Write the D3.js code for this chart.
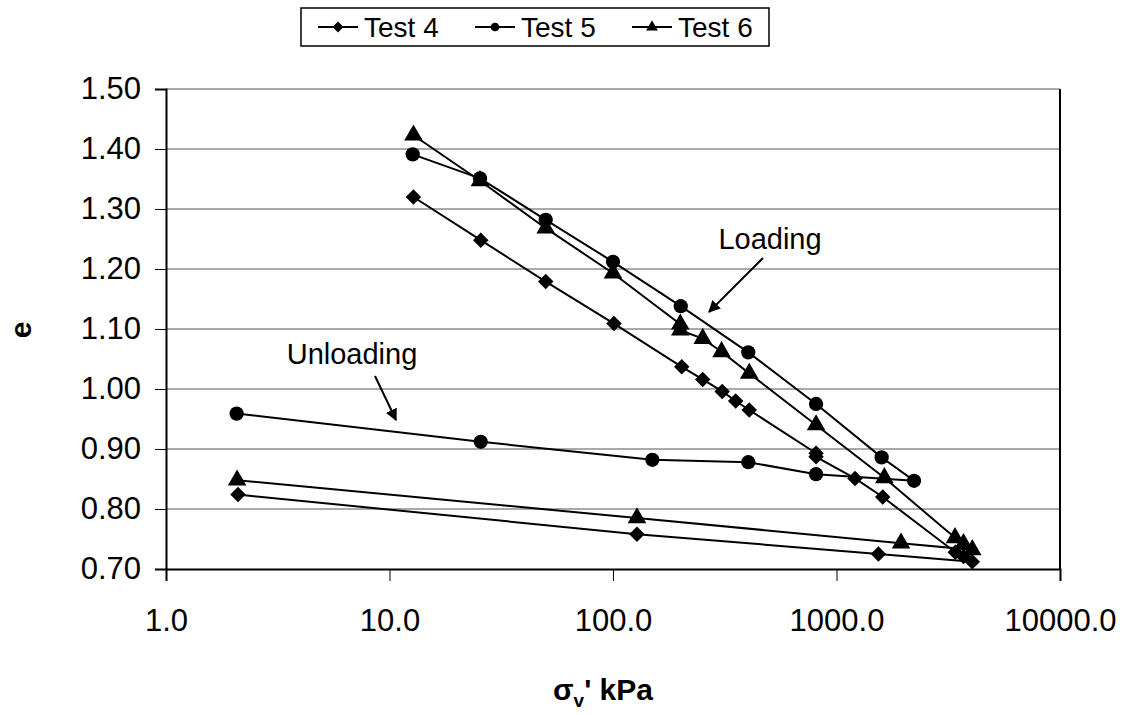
<!DOCTYPE html>
<html><head><meta charset="utf-8">
<script src="https://cdn.jsdelivr.net/npm/d3@7"></script>
<style>body{margin:0;background:#fff}svg text{font-family:"Liberation Sans",Arial,sans-serif}</style>
</head><body><svg id="c" width="1138" height="715"></svg>
<script>
// ---- data ----
const seriesNames = ["Test 4", "Test 5", "Test 6"];
const test4Stress = [12.8, 25.6, 50, 101, 203, 252, 308, 354, 407, 810, 810, 1210, 1610, 3400, 3700, 4050, 1540, 128, 2.1];
const test4E      = [1.320, 1.248, 1.179, 1.109, 1.037, 1.016, 0.996, 0.980, 0.965, 0.893, 0.887, 0.851, 0.820, 0.728, 0.721, 0.712, 0.725, 0.758, 0.824];
const test5Stress = [12.7, 25.4, 50, 100, 201, 403, 810, 1592, 2223, 810, 403, 150, 25.6, 2.07];
const test5E      = [1.391, 1.351, 1.282, 1.212, 1.138, 1.061, 0.975, 0.886, 0.847, 0.858, 0.878, 0.882, 0.912, 0.959];
const test6Stress = [12.8, 25.4, 50, 100, 200, 200, 252, 306, 407, 810, 1637, 3390, 3700, 4050, 1944, 128, 2.08];
const test6E      = [1.423, 1.347, 1.268, 1.193, 1.108, 1.098, 1.084, 1.062, 1.026, 0.940, 0.852, 0.752, 0.742, 0.732, 0.743, 0.785, 0.848];
const xTicks = [1, 10, 100, 1000, 10000];
const yTicks = [0.70, 0.80, 0.90, 1.00, 1.10, 1.20, 1.30, 1.40, 1.50];
const markers = ["diamond", "circle", "triangle"];

const svg = d3.select("#c");
const L = 166, R = 1060, T = 89, B = 569;
const x = d3.scaleLog().domain([1, 10000]).range([L, R]);
const y = d3.scaleLinear().domain([0.70, 1.50]).range([B, T]);
const FONT = '"Liberation Sans",Arial,sans-serif';

// gridlines
svg.append("g").selectAll("line").data(yTicks.slice(1)).join("line")
  .attr("x1", L).attr("x2", R).attr("y1", d => y(d)).attr("y2", d => y(d))
  .attr("stroke", "#555").attr("stroke-width", 1);

// axes
const xAxis = svg.append("g").attr("transform", `translate(0,${B})`)
  .call(d3.axisBottom(x).tickValues(xTicks).tickFormat(d3.format(".1f")).tickSize(12).tickPadding(28));
const yAxis = svg.append("g").attr("transform", `translate(${L},0)`)
  .call(d3.axisLeft(y).tickValues(yTicks).tickFormat(d3.format(".2f")).tickSize(11).tickPadding(14));
[xAxis, yAxis].forEach(g => {
  g.select(".domain").attr("stroke", "#000").attr("stroke-width", 2);
  g.selectAll(".tick line").attr("stroke", "#000").attr("stroke-width", 1);
  g.selectAll("text").attr("font-size", 31).attr("fill", "#000").style("font-family", FONT);
});
// right border
svg.append("line").attr("x1", R).attr("x2", R).attr("y1", T).attr("y2", B)
  .attr("stroke", "#000").attr("stroke-width", 2);

// symbols
function symPath(type, size) {
  const t = type === "diamond" ? d3.symbolSquare : type === "circle" ? d3.symbolCircle : d3.symbolTriangle;
  return d3.symbol().type(t).size(size)();
}
const markerSize = {diamond: 120, circle: 160, triangle: 150};
function symTransform(type, px, py) {
  return type === "diamond" ? `translate(${px},${py}) rotate(45)` : `translate(${px},${py})`;
}

const series = [
  {name: seriesNames[0], xs: test4Stress, ys: test4E, m: markers[0]},
  {name: seriesNames[1], xs: test5Stress, ys: test5E, m: markers[1]},
  {name: seriesNames[2], xs: test6Stress, ys: test6E, m: markers[2]}
];
const line = d3.line().x(d => x(d[0])).y(d => y(d[1]));
series.forEach(s => {
  const pts = s.xs.map((v, i) => [v, s.ys[i]]);
  svg.append("path").attr("d", line(pts)).attr("fill", "none").attr("stroke", "#000").attr("stroke-width", 2);
  svg.append("g").selectAll("path").data(pts).join("path")
    .attr("d", symPath(s.m, markerSize[s.m])).attr("transform", d => symTransform(s.m, x(d[0]), y(d[1]))).attr("fill", "#000");
});

// annotations
const defs = svg.append("defs");
defs.append("marker").attr("id", "ah").attr("viewBox", "0 0 10 10").attr("refX", 9).attr("refY", 5)
  .attr("markerWidth", 6).attr("markerHeight", 6).attr("orient", "auto")
  .append("path").attr("d", "M0,0 L10,5 L0,10 z").attr("fill", "#000");
svg.append("text").attr("x", 770).attr("y", 249).attr("text-anchor", "middle").attr("font-size", 29).text("Loading");
svg.append("line").attr("x1", 763).attr("y1", 258).attr("x2", 709).attr("y2", 312)
  .attr("stroke", "#000").attr("stroke-width", 2).attr("marker-end", "url(#ah)");
svg.append("text").attr("x", 352).attr("y", 364).attr("text-anchor", "middle").attr("font-size", 29).text("Unloading");
svg.append("line").attr("x1", 375).attr("y1", 376).attr("x2", 396).attr("y2", 420)
  .attr("stroke", "#000").attr("stroke-width", 2).attr("marker-end", "url(#ah)");

// axis titles
const xt = svg.append("text").attr("x", 603).attr("y", 700).attr("text-anchor", "middle")
  .attr("font-size", 30).attr("font-weight", "bold");
xt.append("tspan").text("σ");
xt.append("tspan").attr("font-size", 19).attr("dy", 7).text("v");
xt.append("tspan").attr("dy", -7).text("' kPa");
svg.append("text").attr("transform", "translate(31,330) rotate(-90)").attr("text-anchor", "middle")
  .attr("font-size", 30).attr("font-weight", "bold").text("e");

// legend
const lg = svg.append("g");
lg.append("rect").attr("x", 301).attr("y", 8).attr("width", 468).attr("height", 38)
  .attr("fill", "#fff").attr("stroke", "#000").attr("stroke-width", 1.5);
series.forEach((s, i) => {
  const x0 = 318 + i * 157;
  lg.append("line").attr("x1", x0).attr("x2", x0 + 40).attr("y1", 27).attr("y2", 27).attr("stroke", "#000").attr("stroke-width", 2);
  lg.append("path").attr("d", symPath(s.m, 60))
    .attr("transform", symTransform(s.m, x0 + 20, 27)).attr("fill", "#000");
  lg.append("text").attr("x", x0 + 46).attr("y", 37).attr("font-size", 28).text(s.name);
});
</script></body></html>
